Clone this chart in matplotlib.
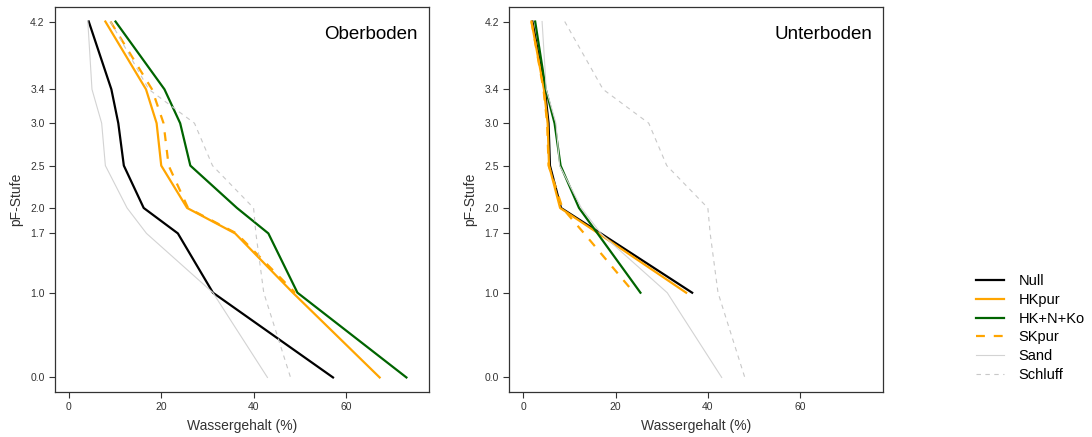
import numpy as np
import matplotlib
matplotlib.use("Agg")
import matplotlib.pyplot as plt

plt.rcParams['font.family'] = ['Liberation Sans', 'DejaVu Sans']

# pF levels (y) and water content in % (x)
pf_levels = [4.2, 3.4, 3.0, 2.5, 2.0, 1.7, 1.0, 0.0]
pf_ticks = [0.0, 1.0, 1.7, 2.0, 2.5, 3.0, 3.4, 4.2]
x_ticks = [0, 20, 40, 60]

# reference soils (same in both panels)
sand = [4.1, 5.0, 7.1, 7.9, 12.6, 16.8, 31.2, 43.0]
schluff = [9.0, 17.3, 27.2, 31.1, 40.0, 40.5, 42.2, 48.0]

# Oberboden
null_ob = [4.3, 9.2, 10.7, 11.9, 16.2, 23.6, 31.2, 57.2]
hkpur_ob = [7.9, 16.7, 19.0, 20.0, 25.6, 36.0, 48.5, 67.3]
hknko_ob = [10.1, 20.7, 24.1, 26.3, 36.4, 43.2, 49.5, 73.1]
skpur_ob = [9.0, 18.0, 20.5, 21.6, 25.8, 36.3, 49.0, np.nan]

# Unterboden
null_ub = [2.0, 4.7, 5.5, 5.8, 8.2, 16.8, 36.6, np.nan]
hkpur_ub = [1.8, 4.5, 5.3, 5.6, 8.0, 16.3, 35.3, np.nan]
hknko_ub = [2.6, 4.9, 6.8, 8.1, 12.1, 16.1, 25.4, np.nan]
skpur_ub = [1.8, 4.4, 5.2, 5.5, 8.5, 13.2, 24.0, np.nan]

labels = ["Null", "HKpur", "HK+N+Ko", "SKpur", "Sand", "Schluff"]
styles = [
    dict(color="black", lw=1.6, ls="-"),
    dict(color="#FFA500", lw=1.6, ls="-"),
    dict(color="#006400", lw=1.6, ls="-"),
    dict(color="#FFA500", lw=1.6, ls=(0, (4, 4))),
    dict(color="#D3D3D3", lw=0.8, ls="-"),
    dict(color="#C8C8C8", lw=0.8, ls=(0, (4, 4))),
]

fig = plt.figure(figsize=(10.92, 4.37), dpi=100)
ax1 = fig.add_axes([0.0504, 0.1037, 0.3425, 0.8796])
ax2 = fig.add_axes([0.4664, 0.1037, 0.3425, 0.8796])

panels = [
    (ax1, "Oberboden", [null_ob, hkpur_ob, hknko_ob, skpur_ob, sand, schluff]),
    (ax2, "Unterboden", [null_ub, hkpur_ub, hknko_ub, skpur_ub, sand, schluff]),
]

grey = "#333333"
for ax, title, series in panels:
    for vals, lab, st in zip(series, labels, styles):
        ax.plot(vals, pf_levels, label=lab, **st)
    ax.set_xlim(-3, 78)
    ax.set_ylim(-0.168, 4.368)
    ax.set_xticks(x_ticks)
    ax.set_yticks(pf_ticks)
    ax.set_yticklabels(["%.1f" % v for v in pf_ticks])
    ax.tick_params(labelsize=7.5, length=4.5, width=0.8, colors=grey, pad=3)
    for sp in ax.spines.values():
        sp.set_color(grey)
        sp.set_linewidth(0.9)
    ax.set_xlabel("Wassergehalt (%)", fontsize=10, color=grey, labelpad=5)
    ax.set_ylabel("pF-Stufe", fontsize=10, color=grey, labelpad=5)
    ax.text(0.97, 0.93, title, transform=ax.transAxes, ha="right", va="center",
            fontsize=13.5, color="black")

handles, labs = ax1.get_legend_handles_labels()
fig.legend(handles, labs, loc="center left", bbox_to_anchor=(0.894, 0.2494),
           frameon=False, fontsize=10.5, handlelength=1.9, handletextpad=1.0,
           labelspacing=0.33, borderpad=0, borderaxespad=0)

fig.savefig("out.png", dpi=100)
